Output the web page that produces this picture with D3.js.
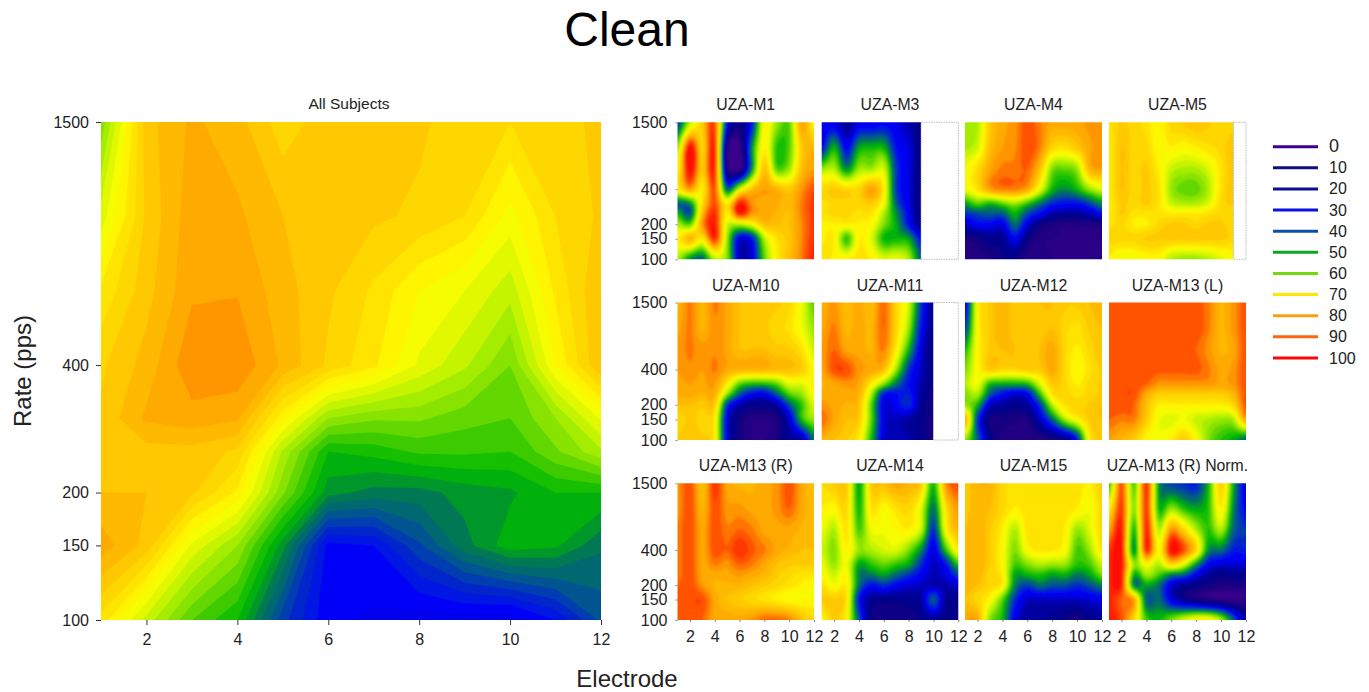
<!DOCTYPE html>
<html><head><meta charset="utf-8">
<script src="https://cdn.jsdelivr.net/npm/d3@7"></script>
<style>
html,body{margin:0;background:#fff}
svg{display:block}
text{font-family:"Liberation Sans",Arial,sans-serif;fill:#222}
</style></head><body>
<svg id="c" width="1369" height="692"></svg>
<script>
const rates=[1500,900,600,400,300,250,200,150,100];
const rateTicks=[100,150,200,400,1500];
const bigXTicks=[2,4,6,8,10,12];
const legendLevels=[0,10,20,30,40,50,60,70,80,90,100];
const legendColors=["#3f0090","#10107c","#0a1090","#0a10e0","#0a50a8","#08a820","#78d810","#ffe800","#f8a010","#f86810","#f80808"];
const allSubjects=[
[58,79,83,81,76,79,79,78,76,75,75,79],
[66,78,84,83,80,78,78,77,75,69,75,78],
[73,79,84.5,84.8,81,78,74.5,70,67.5,63.5,73,80],
[77,81,87,87,82,77,73,67,63,57.5,70,80],
[78,83,84,83,71,60,58,58,56,55,60,68],
[78,79,79,77,62,50,51,53,53,52.5,57,62],
[80,80,78,72,58,46,44,44,46,47,50,50],
[84,79,67,60,46,29,30,37,44,49,48,43],
[74,64,55,50,36,28,27,26,26,25,30,38]];
const m1=[
[35,62,78,92,30,12,30,70,60,55,85,70],
[60,100,76,95,6,0,45,72,52,55,78,82],
[70,100,78,95,8,0,45,80,55,60,80,85],
[72,85,72,92,40,65,80,85,82,78,86,92],
[40,45,75,92,72,97,86,84,83,81,88,94],
[50,38,80,95,72,98,86,84,82,80,88,94],
[62,55,85,97,65,62,68,80,80,80,87,94],
[72,82,72,95,60,25,30,62,74,79,87,95],
[62,45,40,62,58,22,25,55,72,80,88,97]];
const m3=[
[25,25,15,25,25,28,25,20,12],
[30,50,28,48,50,50,30,25,12],
[60,62,45,60,60,65,35,25,12],
[76,78,76,76,85,72,35,25,12],
[74,76,76,76,78,68,40,25,12],
[74,76,76,74,74,62,45,28,12],
[72,72,72,72,70,58,48,30,14],
[72,72,52,72,66,50,50,48,30],
[74,72,72,74,72,66,68,62,40]];
const m4=[
[62,62,78,84,86,92,88,84,84,84,86,86],
[62,65,80,85,87,92,88,76,74,78,84,86],
[68,75,84,88,88,90,80,58,56,60,82,85],
[68,74,85,88,88,84,68,50,45,50,60,66],
[47,55,50,55,60,52,42,33,30,30,36,45],
[35,38,40,40,50,38,30,20,18,18,22,30],
[22,28,28,25,42,25,12,8,6,6,6,8],
[8,10,15,15,28,12,6,5,5,5,5,5],
[6,6,8,12,12,6,6,5,5,5,5,5]];
const m5=[
[74,78,76,74,70,76,78,80,78,76,76],
[72,80,76,76,70,72,70,72,74,76,80],
[72,80,76,78,72,64,62,62,66,74,80],
[72,80,76,78,74,60,56,56,62,74,80],
[72,78,76,78,74,64,62,62,66,76,78],
[72,78,74,74,74,72,72,72,74,76,76],
[74,76,72,72,76,78,78,76,78,78,76],
[76,76,76,78,78,78,78,78,78,78,76],
[72,68,68,70,70,62,60,60,62,66,70]];
const m10=[
[82,88,82,88,84,80,78,78,78,76,68,55],
[84,88,82,87,84,80,78,78,76,74,68,60],
[86,88,86,87,84,80,80,80,78,78,74,64],
[85,87,85,88,84,82,82,82,80,80,78,70],
[84,85,84,85,72,55,50,50,55,66,66,72],
[83,84,82,83,60,40,30,28,40,55,60,70],
[80,80,78,78,35,20,14,14,18,38,52,66],
[76,78,76,72,25,10,6,5,8,22,50,60],
[78,80,78,72,25,10,5,5,8,18,18,42]];
const m11=[
[82,86,80,84,80,90,76,65,35,15],
[84,88,82,84,82,90,76,60,30,15],
[85,90,84,84,82,88,72,50,25,12],
[84,92,92,86,84,80,60,35,22,12],
[82,84,86,84,72,58,42,30,20,12],
[84,84,84,82,62,32,30,32,18,10],
[86,84,82,80,55,25,28,34,16,10],
[90,84,80,78,55,25,22,18,14,8],
[82,80,78,72,50,24,22,20,14,8]];
const m12=[
[25,70,78,82,78,78,80,80,78,78,80,82],
[35,70,78,82,78,78,78,80,76,74,78,80],
[50,70,78,80,80,78,80,84,76,72,76,80],
[58,70,78,76,76,78,78,84,76,70,74,78],
[62,68,50,48,48,50,65,78,76,72,76,78],
[58,62,40,30,25,28,52,74,76,74,76,78],
[60,50,22,18,14,18,34,62,74,76,78,80],
[84,35,10,10,8,8,22,40,60,70,78,80],
[60,40,15,6,6,5,5,8,12,30,72,78]];
const m13L=[
[92,92,92,92,92,92,92,92,88,82,86,92],
[92,92,92,92,92,92,92,92,88,82,86,92],
[92,92,92,92,92,92,92,90,86,82,84,92],
[92,92,92,92,91,91,91,91,88,84,86,92],
[92,92,92,90,86,86,86,86,86,84,86,92],
[92,92,92,84,78,78,78,78,78,78,82,92],
[92,92,90,80,72,72,72,72,72,72,76,92],
[90,88,88,78,68,66,68,64,62,60,62,84],
[85,82,78,70,68,72,78,70,58,52,48,40]];
const m13R=[
[86,92,80,94,84,82,82,84,86,92,84,80],
[86,92,82,92,86,86,84,84,86,90,84,80],
[88,92,84,92,88,90,88,84,84,84,82,80],
[88,92,84,92,90,95,91,88,84,82,80,80],
[88,92,84,88,86,90,88,84,80,78,78,78],
[88,92,84,84,84,86,84,82,78,76,74,74],
[90,92,86,82,82,82,80,78,76,74,72,70],
[92,92,92,84,80,78,76,74,72,70,70,70],
[92,92,90,84,84,84,86,90,90,88,80,76]];
const m14=[
[75,78,78,48,78,80,84,82,78,50,86,92],
[72,70,76,50,74,70,74,76,66,42,74,86],
[68,62,74,54,68,68,70,72,64,34,70,82],
[65,58,72,60,62,65,66,58,45,25,52,72],
[68,60,68,48,52,56,52,48,34,22,30,52],
[70,64,70,44,44,48,42,36,28,22,26,38],
[74,68,72,42,30,34,28,24,22,20,20,24],
[78,78,74,30,16,14,14,15,18,40,16,14],
[70,78,70,38,12,10,10,10,14,16,14,12]];
const m15=[
[78,82,82,76,74,74,74,73,74,74,72,78],
[78,82,80,76,72,74,74,73,74,72,68,76],
[80,82,78,72,62,74,74,74,72,60,66,76],
[80,82,78,70,58,70,73,73,70,54,60,74],
[80,82,78,70,54,58,62,60,60,52,54,64],
[80,82,76,72,48,50,52,48,50,44,48,58],
[82,80,76,72,44,36,42,38,38,34,38,44],
[80,76,70,55,34,22,22,22,22,22,24,26],
[84,84,58,50,26,18,18,16,12,8,14,18]];
const m13RNorm=[
[52,92,54,95,46,36,34,32,50,78,48,24],
[72,94,58,94,50,60,52,48,52,72,44,28],
[84,97,50,96,62,86,76,62,52,62,40,35],
[94,98,45,96,70,99,92,76,45,42,32,32],
[96,98,60,70,62,76,66,46,28,24,24,24],
[96,97,50,62,55,46,42,28,18,14,16,16],
[96,96,44,48,42,24,16,14,10,8,8,8],
[96,90,84,40,42,26,16,10,6,4,2,3],
[98,92,76,54,50,58,66,72,72,62,40,18]];
const panelTitles=["UZA-M1","UZA-M3","UZA-M4","UZA-M5","UZA-M10","UZA-M11","UZA-M12","UZA-M13 (L)","UZA-M13 (R)","UZA-M14","UZA-M15","UZA-M13 (R) Norm."];
const panelData=[m1,m3,m4,m5,m10,m11,m12,m13L,m13R,m14,m15,m13RNorm];

const color=d3.scaleLinear()
 .domain([0,8,15,20,28,35,40,44,47,50,54,58,62,66,70,73,76,78,80,84,87,90,93,100])
 .range(["#3c008c","#1a0080","#00008c","#0000a8","#0000ff","#0030c0","#006080","#007a50","#00a020","#00bb00","#40cc00","#80e000","#aef000","#e0f800","#ffff00","#ffe800","#ffd800","#ffcc00","#ffc000","#ffa800","#ff9000","#ff6000","#ff4000","#ff0000"]);
const thresholds=d3.range(2.5,100,2.5);
const svg=d3.select("#c");
const defs=svg.append("defs");
const mkBlur=(id,s)=>defs.append("filter").attr("id",id).attr("x","-5%").attr("y","-5%").attr("width","110%").attr("height","110%")
 .append("feGaussianBlur").attr("stdDeviation",s);
mkBlur("blurBig",0.7);mkBlur("blurSmall",0.9);

// drawing-only refinement of the read grid so that small contours come out rounded
function cr(p0,p1,p2,p3,t){
 return 0.5*((2*p1)+(-p0+p2)*t+(2*p0-5*p1+4*p2-p3)*t*t+(-p0+3*p1-3*p2+p3)*t*t*t);
}
function sample1(a,u){
 const n=a.length,i=Math.min(n-2,Math.floor(u)),t=u-i;
 return cr(a[Math.max(0,i-1)],a[i],a[i+1],a[Math.min(n-1,i+2)],t);
}
function refine(data,k){
 const ny=data.length,nx=data[0].length;
 const NX=(nx-1)*k+1,NY=(ny-1)*k+1;
 const byRow=data.map(r=>d3.range(NX).map(i=>sample1(r,i/k)));
 const out=[];
 for(let j=0;j<NY;j++){
  const row=[];
  for(let i=0;i<NX;i++){
   row.push(Math.max(0,Math.min(100,sample1(byRow.map(r=>r[i]),j/k))));
  }
  out.push(row);
 }
 return out;
}

const rateIndex=d3.scaleLinear().domain(rates.map((r,i)=>i)).range(rates.map(r=>Math.log(r)));
function drawPanel(id,data,x0,x1,y0,y1,blur,k){
 const x=d3.scaleLinear().domain([1,12]).range([x0,x1]);
 const y=d3.scaleLog().domain([100,1500]).range([y1,y0]);
 const grid=k>1?refine(data,k):data;
 const ny=grid.length,nx=grid[0].length,nElec=data[0].length;
 const proj=d3.geoTransform({point(px,py){
   this.stream.point(x(1+(px-0.5)/k),y(Math.exp(rateIndex((py-0.5)/k))));
 }});
 const path=d3.geoPath(proj);
 const xEnd=x(nElec);
 defs.append("clipPath").attr("id","clip"+id).append("rect")
   .attr("x",x0).attr("y",y0).attr("width",xEnd-x0).attr("height",y1-y0);
 const outer=svg.append("g").attr("clip-path","url(#clip"+id+")");
 const g=outer.append("g").attr("filter","url(#"+blur+")");
 g.append("rect").attr("x",x0-4).attr("y",y0-4).attr("width",xEnd-x0+8).attr("height",y1-y0+8).attr("fill",color(1));
 const cs=d3.contours().size([nx,ny]).thresholds(thresholds)(grid.flat());
 g.selectAll("path").data(cs).join("path")
   .attr("d",path).attr("fill",d=>color(d.value+1.25)).attr("stroke",d=>color(d.value+1.25)).attr("stroke-width",0.3);
 if(nElec<12){
   svg.append("rect").attr("x",xEnd).attr("y",y0).attr("width",x1-xEnd).attr("height",y1-y0)
     .attr("fill","#fff").attr("stroke","#aaa").attr("stroke-width",0.8).attr("stroke-dasharray","1.5 1");
 }
 return {x,y};
}

// main panel
const big=drawPanel("big",allSubjects,101,601,122,620,"blurBig",1);
const styleAxis=(g,fs,col)=>{
 g.select(".domain").remove();
 g.selectAll("line").attr("stroke",col).attr("stroke-width",1);
 g.selectAll("text").style("font-size",fs+"px").style("fill","#222");
};
svg.append("g").attr("transform","translate(101,0)")
 .call(d3.axisLeft(big.y).tickValues(rateTicks).tickFormat(d3.format("d")).tickSize(5).tickPadding(7))
 .call(g=>styleAxis(g,16,"#333"));
svg.append("g").attr("transform","translate(0,620)")
 .call(d3.axisBottom(big.x).tickValues(bigXTicks).tickFormat(d3.format("d")).tickSize(5).tickPadding(9))
 .call(g=>styleAxis(g,16,"#333"));
svg.append("text").attr("x",349).attr("y",109).attr("text-anchor","middle").style("font-size","15.5px").text("All Subjects");

// small multiples
const colX=[[677.5,814],[821.7,958.3],[965,1102],[1109,1246]];
const rowY=[[122.3,259.3],[302.5,440],[483.3,620]];
panelData.forEach((d,i)=>{
 const c=i%4,r=Math.floor(i/4);
 const [x0,x1]=colX[c],[y0,y1]=rowY[r];
 const s=drawPanel("p"+i,d,x0,x1,y0,y1,"blurSmall",5);
 svg.append("text").attr("x",(x0+x1)/2).attr("y",y0-12).attr("text-anchor","middle").style("font-size","15.8px").text(panelTitles[i]);
 if(c===0){
  svg.append("g").attr("transform",`translate(${x0},0)`)
   .call(d3.axisLeft(s.y).tickValues(rateTicks).tickFormat(d3.format("d")).tickSize(2).tickPadding(8))
   .call(g=>styleAxis(g,16,"#888"));
 }
 if(r===2){
  svg.append("g").attr("transform",`translate(0,${y1})`)
   .call(d3.axisBottom(s.x).tickValues(bigXTicks).tickFormat(d3.format("d")).tickSize(2).tickPadding(9))
   .call(g=>styleAxis(g,16,"#888"));
 }
});

// legend
const legY=d3.scalePoint().domain(legendLevels).range([146.7,358]);
const leg=svg.append("g");
leg.selectAll("line").data(legendLevels).join("line")
 .attr("x1",1273).attr("x2",1318).attr("y1",d=>legY(d)).attr("y2",d=>legY(d))
 .attr("stroke",(d,i)=>legendColors[i]).attr("stroke-width",3);
leg.selectAll("text").data(legendLevels).join("text")
 .attr("x",1329).attr("y",d=>legY(d)+5.5).style("font-size",d=>d===0?"18px":"16px").text(d=>d);

// titles
svg.append("text").attr("x",627).attr("y",46).attr("text-anchor","middle").style("font-size","48px").style("fill","#000").text("Clean");
svg.append("text").attr("x",627).attr("y",687).attr("text-anchor","middle").style("font-size","24px").text("Electrode");
svg.append("text").attr("transform","translate(31,371) rotate(-90)").attr("text-anchor","middle").style("font-size","24px").text("Rate (pps)");
</script>
</body></html>
